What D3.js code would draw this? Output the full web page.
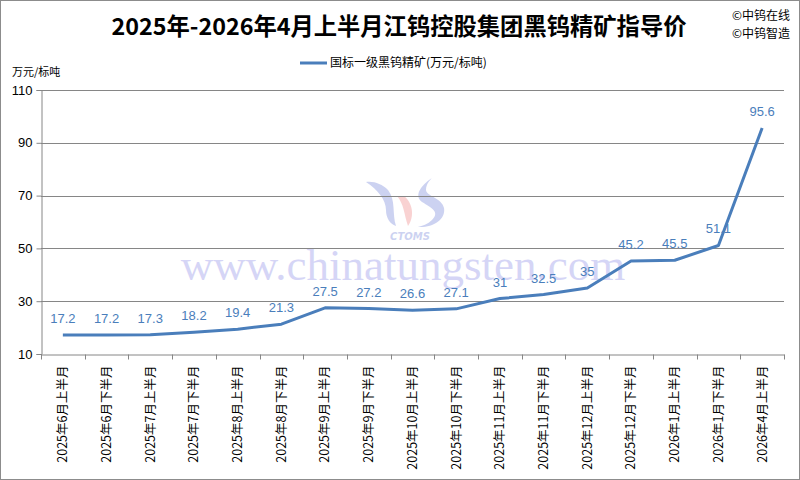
<!DOCTYPE html>
<html>
<head>
<meta charset="utf-8">
<script src="https://cdn.jsdelivr.net/npm/d3@7"></script>
<style>
  html, body { margin: 0; padding: 0; background: #fff; }
  svg { display: block; }
</style>
</head>
<body>
<div id="chart"></div>
<script>
// 数据
var categories = [
  "2025年6月上半月", "2025年6月下半月", "2025年7月上半月", "2025年7月下半月",
  "2025年8月上半月", "2025年8月下半月", "2025年9月上半月", "2025年9月下半月",
  "2025年10月上半月", "2025年10月下半月", "2025年11月上半月", "2025年11月下半月",
  "2025年12月上半月", "2025年12月下半月", "2026年1月上半月", "2026年1月下半月",
  "2026年4月上半月"
];
var prices = [17.2, 17.2, 17.3, 18.2, 19.4, 21.3, 27.5, 27.2, 26.6, 27.1, 31, 32.5, 35, 45.2, 45.5, 51.1, 95.6];
var yTicks = [10, 30, 50, 70, 90, 110];
var seriesName = "国标一级黑钨精矿(万元/标吨)";

var W = 800, H = 480;
var m = {left: 41, right: 16, top: 90, bottom: 126};
var cjk = "'Noto Sans CJK SC', 'Noto Sans', sans-serif";

var svg = d3.select("#chart").append("svg")
  .attr("width", W).attr("height", H);

svg.append("rect")
  .attr("x", 0.5).attr("y", 0.5).attr("width", W - 1).attr("height", H - 1)
  .attr("fill", "#fff").attr("stroke", "#8c8c8c");

var x = d3.scaleBand().domain(categories).range([m.left, W - m.right]);
var y = d3.scaleLinear().domain([10, 110]).range([H - m.bottom, m.top]);

// 水印
var wm = svg.append("g").attr("opacity", 0.35);
wm.append("text")
  .attr("x", 403).attr("y", 280)
  .attr("text-anchor", "middle")
  .attr("font-family", "'Liberation Serif', 'DejaVu Serif', serif")
  .attr("font-size", 45)
  .attr("fill", "#8a8ae6")
  .text("www.chinatungsten.com");
var logo = wm.append("g");
logo.append("path")
  .attr("d", "M366,182 C378,190 386,200 386,210 C386,218 390,224 396,226 C392,214 396,200 388,190 C382,184 374,181 366,182 Z")
  .attr("fill", "#6f7fd8");
logo.append("path")
  .attr("d", "M397,196 C404,204 404,214 408,226 C414,218 414,204 404,196 Z")
  .attr("fill", "#f08080");
logo.append("path")
  .attr("d", "M432,178 C420,186 414,196 422,202 C432,208 440,212 432,220 C428,224 422,226 418,227 C432,228 446,220 444,208 C442,198 426,196 426,190 C426,184 430,180 432,178 Z")
  .attr("fill", "#6f7fd8");
logo.append("text").attr("x", 410).attr("y", 240).attr("text-anchor", "middle")
  .attr("font-family", "'DejaVu Sans', sans-serif").attr("font-weight", "bold")
  .attr("font-style", "italic").attr("font-size", 10).attr("fill", "#6f7fd8").text("CTOMS");

// 网格线
svg.append("g").selectAll("line")
  .data(yTicks.filter(d => d > 10))
  .enter().append("line")
  .attr("x1", m.left).attr("x2", W - m.right)
  .attr("y1", d => Math.round(y(d)) + 0.5).attr("y2", d => Math.round(y(d)) + 0.5)
  .attr("stroke", "#868686");

// Y轴
var yAxis = svg.append("g")
  .attr("transform", "translate(" + (m.left + 0.5) + ",0)")
  .call(d3.axisLeft(y).tickValues(yTicks).tickSize(5).tickPadding(4));
yAxis.select(".domain").attr("stroke", "#868686");
yAxis.selectAll(".tick line").attr("stroke", "#868686");
yAxis.selectAll("text")
  .attr("font-family", "'Liberation Sans', Arial, sans-serif")
  .attr("font-size", 13).attr("fill", "#000");

// X轴
var xAxis = svg.append("g")
  .attr("transform", "translate(0," + (Math.round(y(10)) + 0.5) + ")")
  .call(d3.axisBottom(x).tickSize(0));
xAxis.select(".domain").attr("stroke", "#868686");
xAxis.selectAll("text")
  .attr("font-family", cjk).attr("font-size", 12.5).attr("fill", "#000")
  .attr("text-anchor", "end")
  .attr("transform", "rotate(-90)")
  .attr("x", -11).attr("y", 0).attr("dy", "0.35em");
var bounds = categories.map(c => x(c)).concat([W - m.right]);
xAxis.selectAll(".bound").data(bounds).enter().append("line")
  .attr("class", "bound")
  .attr("x1", d => Math.round(d) + 0.5).attr("x2", d => Math.round(d) + 0.5)
  .attr("y1", 0).attr("y2", 5).attr("stroke", "#868686");

// 折线
var line = d3.line()
  .x((d, i) => x(categories[i]) + x.bandwidth() / 2)
  .y(d => y(d));
svg.append("path")
  .datum(prices)
  .attr("d", line)
  .attr("fill", "none")
  .attr("stroke", "#4a7ebb")
  .attr("stroke-width", 3)
  .attr("stroke-linejoin", "round");

// 数据标签
svg.append("g").selectAll("text")
  .data(prices)
  .enter().append("text")
  .attr("x", (d, i) => x(categories[i]) + x.bandwidth() / 2)
  .attr("y", d => y(d) - 12)
  .attr("text-anchor", "middle")
  .attr("font-family", "'Liberation Sans', Arial, sans-serif")
  .attr("font-size", 13)
  .attr("fill", "#4a7ebb")
  .text(d => d);

// 标题
svg.append("text")
  .attr("x", 399).attr("y", 35)
  .attr("text-anchor", "middle")
  .attr("font-family", cjk).attr("font-weight", "bold")
  .attr("font-size", 23.3).attr("fill", "#000")
  .text("2025年-2026年4月上半月江钨控股集团黑钨精矿指导价");

svg.append("text").attr("x", 732).attr("y", 20)
  .attr("font-family", cjk).attr("font-size", 12).attr("fill", "#000").text("©中钨在线");
svg.append("text").attr("x", 732).attr("y", 38)
  .attr("font-family", cjk).attr("font-size", 12).attr("fill", "#000").text("©中钨智造");

// 图例
svg.append("line")
  .attr("x1", 300).attr("x2", 327).attr("y1", 63).attr("y2", 63)
  .attr("stroke", "#4a7ebb").attr("stroke-width", 3);
svg.append("text").attr("x", 330).attr("y", 67)
  .attr("font-family", cjk).attr("font-size", 12).attr("fill", "#000").text(seriesName);

// 单位
svg.append("text").attr("x", 12).attr("y", 76)
  .attr("font-family", cjk).attr("font-size", 11).attr("fill", "#000").text("万元/标吨");
</script>
</body>
</html>
